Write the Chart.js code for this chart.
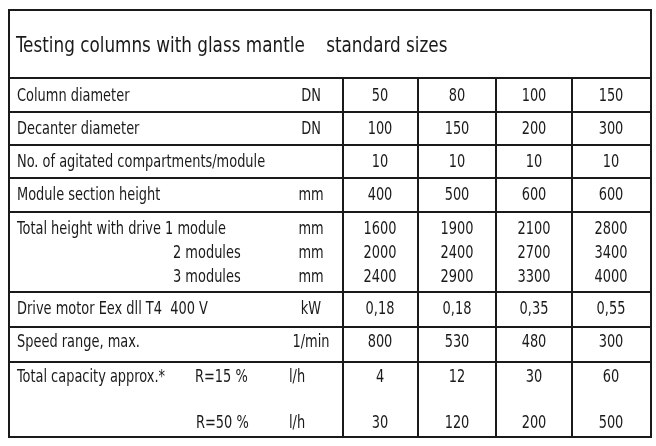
<!DOCTYPE html>
<html>
<head>
<meta charset="utf-8">
<script src="https://cdn.jsdelivr.net/npm/chart.js@4"></script>
<style>
html,body{margin:0;padding:0;background:#fff}
#wrap{width:656px;height:446px}
</style>
</head>
<body>
<div id="wrap"><canvas id="ChartTable"></canvas></div>
<script>
var title = "Testing columns with glass mantle    standard sizes";
var labels = ["Column diameter", "Decanter diameter", "No. of agitated compartments/module", "Module section height",
    "Total height with drive 1 module", "2 modules", "3 modules", "Drive motor Eex dll T4  400 V", "Speed range, max.",
    "Total capacity approx.*", "R=50 %"];
var subLabels = ["", "", "", "", "", "", "", "", "", "R=15 %", ""];
var units = ["DN", "DN", "", "mm", "mm", "mm", "mm", "kW", "1/min", "l/h", "l/h"];
var col1 = ["50", "100", "10", "400", "1600", "2000", "2400", "0,18", "800", "4", "30"];
var col2 = ["80", "150", "10", "500", "1900", "2400", "2900", "0,18", "530", "12", "120"];
var col3 = ["100", "200", "10", "600", "2100", "2700", "3300", "0,35", "480", "30", "200"];
var col4 = ["150", "300", "10", "600", "2800", "3400", "4000", "0,55", "300", "60", "500"];
var rowY = [96, 129, 162, 195, 229, 253, 277, 309, 342, 377, 423];
var hLines = [10, 78, 112, 145, 178, 212, 292, 327, 362, 437];
var vLines = [343, 418, 496, 572];
var colX = [380, 457, 534, 611];

var font = '"DejaVu Sans Condensed", "Liberation Sans", sans-serif';

// condensed text: squeeze horizontally like the original narrow face
function narrowText(ctx, str, x, y, align, sx) {
    ctx.save();
    ctx.translate(x, y);
    ctx.scale(sx, 1);
    ctx.textAlign = align;
    ctx.fillText(str, 0, 0);
    ctx.restore();
}

var tablePlugin = {
    id: 'tablePlugin',
    afterDraw: function (chart) {
        var ctx = chart.ctx;
        var x = chart.scales.x, y = chart.scales.y;
        var px = function (v) { return x.getPixelForValue(v) }
        var py = function (v) { return y.getPixelForValue(v) }
        ctx.save();
        ctx.strokeStyle = '#1a1a1a';
        ctx.lineWidth = 2;
        ctx.strokeRect(px(9), py(10), px(651) - px(9), py(437) - py(10));
        hLines.forEach(function (h) {
            ctx.beginPath(); ctx.moveTo(px(9), py(h)); ctx.lineTo(px(651), py(h)); ctx.stroke();
        })
        vLines.forEach(function (v) {
            ctx.beginPath(); ctx.moveTo(px(v), py(78)); ctx.lineTo(px(v), py(437)); ctx.stroke();
        })
        ctx.fillStyle = '#1a1a1a';
        ctx.textBaseline = 'middle';
        ctx.font = '22px ' + font;
        narrowText(ctx, title, px(16), py(46), 'left', 0.85);
        ctx.font = '18px ' + font;
        var cols = [col1, col2, col3, col4];
        for (var i = 0; i < labels.length; i++) {
            var lx = (i == 5 || i == 6) ? 173 : (i == 10 ? 196 : 17);
            narrowText(ctx, labels[i], px(lx), py(rowY[i]), 'left', 0.8);
            if (subLabels[i]) narrowText(ctx, subLabels[i], px(195), py(rowY[i]), 'left', 0.8);
            var ux = (i >= 9) ? 297 : 311;
            narrowText(ctx, units[i], px(ux), py(rowY[i]), 'center', 0.8);
            for (var c = 0; c < 4; c++) {
                narrowText(ctx, cols[c][i], px(colX[c]), py(rowY[i]), 'center', 0.8);
            }
        }
        ctx.restore();
    }
};

var myChart = new Chart(document.getElementById('ChartTable').getContext('2d'), {
    type: 'scatter',
    data: { datasets: [] },
    options: {
        responsive: true,
        maintainAspectRatio: false,
        animation: false,
        layout: { padding: 0 },
        plugins: { legend: { display: false }, tooltip: { enabled: false } },
        scales: {
            x: { type: 'linear', min: 0, max: 656, display: false },
            y: { type: 'linear', min: 0, max: 446, reverse: true, display: false }
        }
    },
    plugins: [tablePlugin]
});
</script>
</body>
</html>
